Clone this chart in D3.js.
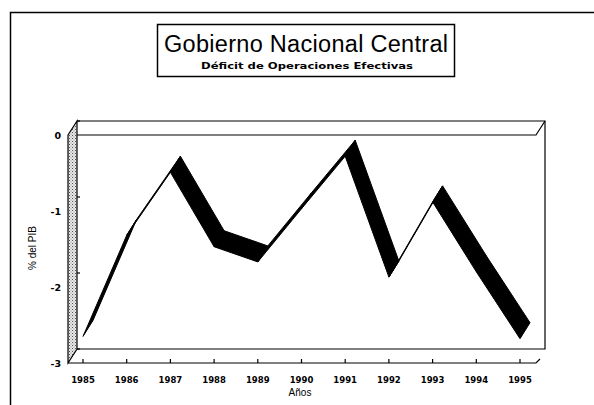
<!DOCTYPE html>
<html><head><meta charset="utf-8">
<script src="https://cdn.jsdelivr.net/npm/d3@7"></script>
<style>body{margin:0;background:#fff}svg{display:block}text{font-family:"Liberation Sans",Arial,sans-serif;fill:#000}.wide{font-family:"DejaVu Sans",sans-serif;font-weight:bold}</style>
</head><body>
<script>
const years = [1985,1986,1987,1988,1989,1990,1991,1992,1993,1994,1995];
const deficit = [-2.65,-1.32,-0.49,-1.47,-1.67,-0.97,-0.28,-1.87,-0.88,-1.80,-2.68];
const yTicks = [0,-1,-2,-3];
const title = "Gobierno Nacional Central";
const subtitle = "Déficit de Operaciones Efectivas";
const xTitle = "Años";
const yTitle = "% del PIB";

const W=594,H=405;
const svg=d3.select("body").append("svg").attr("width",W).attr("height",H);
const defs=svg.append("defs");
const pat=defs.append("pattern").attr("id","stip").attr("width",3).attr("height",3).attr("patternUnits","userSpaceOnUse");
pat.append("rect").attr("width",3).attr("height",3).attr("fill","#e8e8e8");
pat.append("rect").attr("width",1).attr("height",1).attr("fill","#555");
pat.append("rect").attr("x",1.5).attr("y",1.5).attr("width",1).attr("height",1).attr("fill","#888");

// outer frame
svg.append("path").attr("d","M10.5,405V12.5H594").attr("fill","none").attr("stroke","#000").attr("stroke-width",1.5);

// title box
svg.append("rect").attr("x",157.5).attr("y",24.5).attr("width",297).attr("height",52).attr("fill","#fff").attr("stroke","#000").attr("stroke-width",1.5);
svg.append("text").attr("x",306).attr("y",52).attr("text-anchor","middle").attr("font-size",23.5)
  .attr("textLength",284).attr("lengthAdjust","spacing").text(title);
svg.append("text").attr("class","wide").attr("x",307).attr("y",69).attr("text-anchor","middle").attr("font-size",9)
  .attr("textLength",212).attr("lengthAdjust","spacingAndGlyphs").text(subtitle);

// plot geometry
const FX0=68,FX1=536;
const x=d3.scaleLinear().domain([1985,1995]).range([83,520]);
const y=d3.scaleLinear().domain([0,-3]).range([135,363]);
const BDX=9,BDY=-14;  // box depth
const RDX=10,RDY=-16; // ribbon depth

const g=svg.append("g");
const yTop=y(0),yBot=y(-3);
// left side wall
g.append("path").attr("d",`M${FX0},${yTop}L${FX0+BDX},${yTop+BDY}L${FX0+BDX},${yBot+BDY}L${FX0},${yBot}Z`)
 .attr("fill","url(#stip)").attr("stroke","#000").attr("stroke-width",1.2);
// box lines
const line=(d)=>g.append("path").attr("d",d).attr("fill","none").attr("stroke","#000").attr("stroke-width",1.2);
line(`M${FX0+BDX},${yTop+BDY}H${FX1+BDX}V${yBot+BDY}H${FX0+BDX}`);
line(`M${FX0+BDX},${yTop}H${FX1}L${FX1+BDX},${yTop+BDY}`);
line(`M${FX0},${yBot}H${FX1}L${FX1+4},${yBot-4}`);
// x ticks on front floor
years.forEach(v=>line(`M${x(v)},${yBot}v-4`));
// y ticks on back wall left
yTicks.forEach(v=>line(`M${FX0+BDX},${y(v)+BDY}h3`));

// ribbon
const pts=years.map((v,i)=>[x(v),y(deficit[i])]);
for(let i=0;i<pts.length-1;i++){
  const a=pts[i],b=pts[i+1];
  g.append("path").attr("d",`M${a[0]},${a[1]}L${b[0]},${b[1]}L${b[0]+RDX},${b[1]+RDY}L${a[0]+RDX},${a[1]+RDY}Z`)
   .attr("fill","#000").attr("stroke","#000").attr("stroke-width",1).attr("stroke-linejoin","round");
}

// tick labels
yTicks.forEach(v=>svg.append("text").attr("class","wide").attr("x",61).attr("y",y(v)+4).attr("text-anchor","end").attr("font-size",9.5).text(v));
years.forEach(v=>svg.append("text").attr("class","wide").attr("x",x(v)).attr("y",383).attr("text-anchor","middle").attr("font-size",8.5).text(v));
svg.append("text").attr("x",300).attr("y",396).attr("text-anchor","middle").attr("font-size",10).text(xTitle);
svg.append("text").attr("transform","translate(36,248) rotate(-90)").attr("text-anchor","middle").attr("font-size",10).text(yTitle);
</script>
</body></html>
